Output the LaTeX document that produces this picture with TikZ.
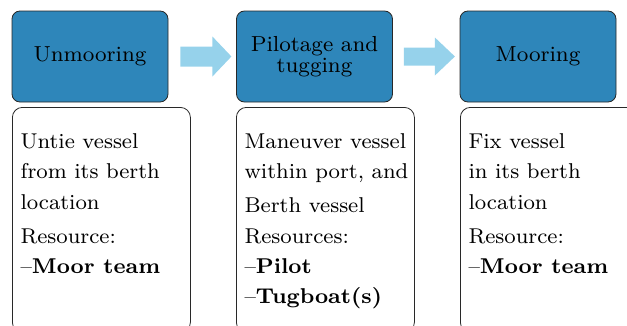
\documentclass[tikz,border=0pt]{standalone}
\usetikzlibrary{calc}
\definecolor{stageblue}{RGB}{46,134,186}
\definecolor{flowblue}{RGB}{150,210,235}
\definecolor{edgegray}{RGB}{40,40,40}
\tikzset{
  stage/.style={draw=edgegray, line width=0.8pt, fill=stageblue, rounded corners=8pt,
    minimum width=156pt, minimum height=91pt, inner sep=0pt},
  stagetext/.style={inner sep=0pt, align=center, scale=2.72, transform shape,
    font=\fontsize{8}{7.5}\selectfont},
  detail/.style={draw=edgegray, line width=0.8pt, fill=white, rounded corners=10pt,
    minimum width=178pt, minimum height=225pt, inner sep=0pt, anchor=north west},
  bodytext/.style={anchor=north west, inner sep=0pt, align=left, scale=2.68,
    transform shape, font=\fontsize{8}{11.35}\selectfont},
  flowarrow/.style={fill=flowblue, draw=none}
}
\begin{document}
\begin{tikzpicture}[x=1pt,y=1pt]
  \useasboundingbox (0,0) rectangle (627,325);
  % stage headers
  \node[stage] (s1) at (90,268.5) {};
  \node[stage] (s2) at (314.5,268.5) {};
  \node[stage] (s3) at (538,268.5) {};
  \node[stagetext] (h1) at (s1.center) {Unmooring};
  \node[stagetext] (h2) at (s2.center) {Pilotage and\\tugging};
  \node[stagetext] (h3) at (s3.center) {Mooring};
  % detail panels
  \node[detail] (d1) at (12,218) {};
  \node[detail] (d2) at (236,218) {};
  \node[detail] (d3) at (460,218) {};
  % panel texts
  \node[bodytext] (t1) at ($(d1.north west)+(8,-26)$)
    {Untie vessel\\from its berth\\location\\[1.3pt]Resource:\\--\textbf{Moor team}};
  \node[bodytext] (t2) at ($(d2.north west)+(8,-26)$)
    {Maneuver vessel\\within port, and\\[1.3pt]Berth vessel\\Resources:\\--\textbf{Pilot}\\--\textbf{Tugboat(s)}};
  \node[bodytext] (t3) at ($(d3.north west)+(8,-26)$)
    {Fix vessel\\in its berth\\location\\[1.3pt]Resource:\\--\textbf{Moor team}};
  % block arrows between stages
  \fill[flowarrow] ($(s1.east)+(12,10)$) -- ++(32,0) -- ++(0,10) -- ++(19,-20)
    -- ++(-19,-20) -- ++(0,10) -- ++(-32,0) -- cycle;
  \fill[flowarrow] ($(s2.east)+(11,9)$) -- ++(31,0) -- ++(0,10) -- ++(20,-19)
    -- ++(-20,-19) -- ++(0,10) -- ++(-31,0) -- cycle;
\end{tikzpicture}
\end{document}
